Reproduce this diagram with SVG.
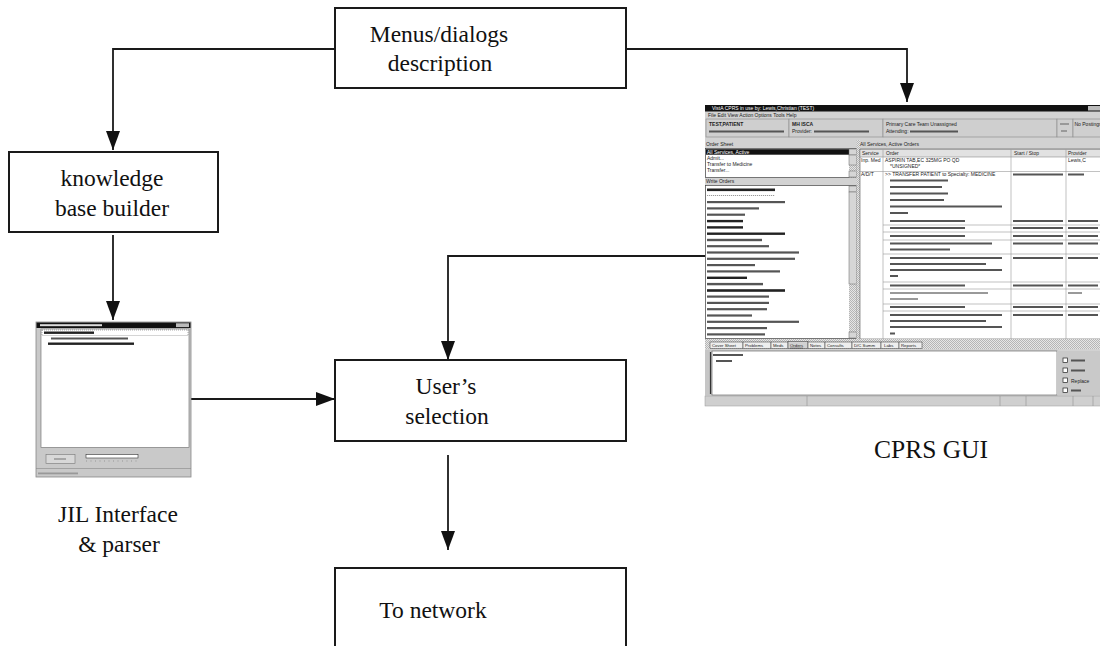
<svg xmlns="http://www.w3.org/2000/svg" width="1100" height="646" viewBox="0 0 1100 646">
<style>
.box{fill:#fff;stroke:#1a1a1a;stroke-width:2}
.lbl{font-family:"Liberation Serif","Times New Roman",serif;font-size:23.5px;fill:#111;text-anchor:middle}
.big{font-size:25.5px}
.edge{fill:none;stroke:#1a1a1a;stroke-width:1.8}
.st{font-family:"Liberation Sans",Arial,sans-serif;font-size:5px;fill:#222}
.stw{font-family:"Liberation Sans",Arial,sans-serif;font-size:5px;fill:#fff}
.tab{font-family:"Liberation Sans",Arial,sans-serif;font-size:4.3px;fill:#222}
.bar{fill:#555}
.barl{fill:#999}
.bard{fill:#222}
.panel{fill:#cfcfcf;stroke:#888;stroke-width:0.6}
.wh{fill:#fff;stroke:#444;stroke-width:0.7}
.grid{stroke:#999;stroke-width:0.6}
.cb{fill:#fff;stroke:#222;stroke-width:0.7}
</style>
<defs>
<marker id="ah" markerUnits="userSpaceOnUse" markerWidth="20" markerHeight="15" refX="19" refY="7" orient="auto">
<path d="M0,0 L19,7 L0,14 z" fill="#111"/>
</marker>
<pattern id="dots" width="2" height="2" patternUnits="userSpaceOnUse">
<rect width="2" height="2" fill="#e6e6e6"/><rect width="1" height="1" fill="#b5b5b5"/><rect x="1" y="1" width="1" height="1" fill="#b5b5b5"/>
</pattern>
</defs>
<rect width="1100" height="646" fill="#fff"/>

<g id="connectors">
<path class="edge" d="M335,49 H113 V150" marker-end="url(#ah)"/>
<path class="edge" d="M113,235 V320" marker-end="url(#ah)"/>
<path class="edge" d="M191,399 H335" marker-end="url(#ah)"/>
<path class="edge" d="M626,49 H907 V102" marker-end="url(#ah)"/>
<path class="edge" d="M705,256 H448 V360" marker-end="url(#ah)"/>
<path class="edge" d="M448,455 V550" marker-end="url(#ah)"/>
</g>

<g id="menus-dialogs">
<rect class="box" x="335" y="8" width="291" height="80"/>
<text class="lbl" x="439" y="42">Menus/dialogs</text>
<text class="lbl" x="440" y="71">description</text>
</g>

<g id="knowledge-base-builder">
<rect class="box" x="9" y="152" width="209" height="80"/>
<text class="lbl" x="112" y="186">knowledge</text>
<text class="lbl" x="112" y="216">base builder</text>
</g>

<g id="users-selection">
<rect class="box" x="335" y="360" width="291" height="81"/>
<text class="lbl" x="446" y="394">User’s</text>
<text class="lbl" x="447" y="424">selection</text>
</g>

<g id="to-network">
<rect class="box" x="335" y="568" width="291" height="100"/>
<text class="lbl" x="433" y="618">To network</text>
</g>

<g id="jil-interface">
<rect x="36" y="322" width="155" height="155" fill="#c9c9c9" stroke="#888" stroke-width="0.8"/>
<rect x="36.5" y="322.5" width="154" height="5.5" fill="#111"/>
<rect x="40" y="324.2" width="62" height="2" fill="#ddd"/>
<rect x="176" y="323.3" width="13" height="3.8" fill="#bbb"/>
<rect x="41" y="329" width="148" height="118.5" fill="#fff" stroke="#666" stroke-width="0.6"/>
<rect x="42" y="330" width="146" height="5.5" fill="none" stroke="#555" stroke-width="0.5" stroke-dasharray="1,1"/>
<rect x="44" y="331.5" width="50" height="2.4" class="bard"/>
<rect x="51" y="337.5" width="77" height="2" class="bar"/>
<rect x="48" y="342.5" width="86" height="2.4" class="bard"/>
<rect x="46" y="454.5" width="29" height="9" fill="#d8d8d8" stroke="#777" stroke-width="0.6"/>
<rect x="54" y="458.2" width="12" height="1.6" class="barl"/>
<rect x="86" y="454.5" width="52" height="3.5" fill="#fff" stroke="#333" stroke-width="0.6"/>
<path d="M86,461 H138" stroke="#777" stroke-width="0.6" stroke-dasharray="1,3.5"/>
<path d="M36,468.5 H191" stroke="#888" stroke-width="0.6"/>
<rect x="38" y="472.5" width="40" height="1.8" class="barl"/>
<text class="lbl" x="118" y="522">JIL Interface</text>
<text class="lbl" x="119" y="552">&amp; parser</text>
</g>

<g id="cprs-gui">
<rect x="705" y="105" width="400" height="301" fill="#d2d2d2"/>
<rect x="705" y="105" width="400" height="6.5" fill="#111"/>
<text class="stw" x="712" y="110.3">VistA CPRS in use by: Lewis,Christian (TEST)</text>
<rect x="1088" y="106" width="12" height="4.5" fill="#bbb"/>
<text class="st" x="708" y="117">File  Edit  View  Action  Options  Tools  Help</text>
<rect class="panel" x="706" y="119" width="83" height="18"/>
<text class="st" x="709" y="126" font-weight="bold">TEST,PATIENT</text>
<rect x="709" y="130.5" width="75" height="2" class="bar"/>
<rect class="panel" x="789" y="119" width="94" height="18"/>
<text class="st" x="792" y="126" font-weight="bold">MH ISCA</text>
<text class="st" x="792" y="133">Provider:</text>
<rect x="814" y="130.5" width="55" height="2" class="bar"/>
<rect class="panel" x="883" y="119" width="174" height="18"/>
<text class="st" x="886" y="126">Primary Care Team Unassigned</text>
<text class="st" x="886" y="133">Attending:</text>
<rect x="910" y="130.5" width="48" height="2" class="bar"/>
<rect class="panel" x="1057" y="119" width="16" height="18"/>
<rect x="1060" y="123" width="9" height="2" class="barl"/>
<rect x="1061" y="130" width="6" height="2" class="barl"/>
<rect class="panel" x="1073" y="119" width="30" height="18"/>
<text class="st" x="1074.5" y="126" font-size="4.4">No Postings</text>

<text class="st" x="706" y="146">Order Sheet</text>
<rect class="wh" x="705.5" y="148.5" width="151" height="29"/>
<rect x="706" y="149.2" width="143" height="5.5" fill="#111"/>
<text class="stw" x="707" y="153.8">All Services, Active</text>
<text class="st" x="707" y="160">Admit...</text>
<text class="st" x="707" y="166">Transfer to Medicine</text>
<text class="st" x="707" y="172">Transfer...</text>
<rect x="849" y="149" width="7.5" height="28.5" fill="url(#dots)"/>
<rect x="849" y="149" width="7.5" height="6" fill="#d6d6d6" stroke="#666" stroke-width="0.5"/>
<rect x="849" y="171" width="7.5" height="6" fill="#d6d6d6" stroke="#666" stroke-width="0.5"/>
<rect x="849" y="155" width="7.5" height="10" fill="#d6d6d6" stroke="#666" stroke-width="0.5"/>

<text class="st" x="706" y="183">Write Orders</text>
<rect class="wh" x="705.5" y="185.5" width="151" height="153"/>
<g>
<rect x="707" y="188.5" width="68" height="2.6" class="bard"/>
<path d="M707,195.5 H775" stroke="#555" stroke-width="0.6" stroke-dasharray="1.2,0.8"/>
<rect x="707" y="201" width="78" height="2.2" class="bar"/>
<rect x="707" y="207.3" width="52" height="2.2" class="bar"/>
<rect x="707" y="213.6" width="38" height="2.2" class="bar"/>
<rect x="707" y="219.9" width="36" height="2.4" class="bard"/>
<rect x="707" y="226.2" width="36" height="2.4" class="bard"/>
<rect x="707" y="232.5" width="78" height="2.4" class="bard"/>
<rect x="707" y="238.8" width="55" height="2.4" class="bar"/>
<rect x="707" y="245.1" width="62" height="2.2" class="bar"/>
<rect x="707" y="251.4" width="92" height="2.2" class="bar"/>
<rect x="707" y="257.7" width="88" height="2.2" class="bar"/>
<rect x="707" y="264" width="48" height="2.2" class="bar"/>
<rect x="707" y="270.3" width="73" height="2.2" class="bar"/>
<rect x="707" y="276.6" width="40" height="2.4" class="bard"/>
<rect x="707" y="282.9" width="56" height="2.4" class="bar"/>
<rect x="707" y="289.2" width="78" height="2.6" class="bard"/>
<rect x="707" y="295.5" width="62" height="2.2" class="bar"/>
<rect x="707" y="301.8" width="62" height="2.2" class="bar"/>
<rect x="707" y="308.1" width="60" height="2.2" class="bar"/>
<rect x="707" y="314.4" width="45" height="2.2" class="bar"/>
<rect x="707" y="320.7" width="92" height="2.2" class="bar"/>
<rect x="707" y="327" width="60" height="2.2" class="bar"/>
<rect x="707" y="333.3" width="58" height="2.2" class="bar"/>
</g>
<rect x="849" y="186" width="7.5" height="152" fill="url(#dots)"/>
<rect x="849" y="186" width="7.5" height="6" fill="#d6d6d6" stroke="#666" stroke-width="0.5"/>
<rect x="849" y="192" width="7.5" height="92" fill="#d6d6d6" stroke="#666" stroke-width="0.5"/>
<rect x="849" y="332" width="7.5" height="6" fill="#d6d6d6" stroke="#666" stroke-width="0.5"/>
<rect x="856.5" y="140" width="3.5" height="199" fill="url(#dots)"/>

<text class="st" x="860" y="146">All Services, Active Orders</text>
<rect x="860" y="149" width="245" height="190" fill="#fff" stroke="#555" stroke-width="0.6"/>
<rect x="860" y="149.5" width="245" height="7.5" fill="#e2e2e2" stroke="#777" stroke-width="0.5"/>
<text class="st" x="862" y="155">Service</text>
<text class="st" x="886" y="155">Order</text>
<text class="st" x="1014" y="155">Start / Stop</text>
<text class="st" x="1068" y="155">Provider</text>
<g class="grid">
<path d="M883,149.5 V339 M1011,149.5 V339 M1066,149.5 V339"/>
<path d="M860,171.5 H1105 M883,225 H1105 M883,232 H1105 M883,240 H1105 M883,254 H1105 M883,282 H1105 M883,289 H1105 M883,304 H1105 M883,311 H1105"/>
</g>
<text class="st" x="861" y="162">Inp. Med</text>
<text class="st" x="885" y="162">ASPIRIN TAB,EC  325MG PO QD</text>
<text class="st" x="890" y="168">*UNSIGNED*</text>
<text class="st" x="1068" y="162">Lewis,C</text>
<text class="st" x="861" y="175.5">A/D/T</text>
<text class="st" x="885" y="175.5">&gt;&gt; TRANSFER PATIENT to Specialty: MEDICINE</text>
<g>
<rect x="1013" y="173.5" width="50" height="2" class="bar"/>
<rect x="1068" y="173.5" width="16" height="2" class="bar"/>
<rect x="890" y="179.5" width="58" height="2" class="bar"/>
<rect x="890" y="186" width="52" height="2" class="bar"/>
<rect x="890" y="192.5" width="58" height="2" class="bar"/>
<rect x="890" y="199" width="54" height="2" class="bar"/>
<rect x="890" y="205.5" width="112" height="2" class="bar"/>
<rect x="890" y="212" width="18" height="2" class="bar"/>
<rect x="890" y="220" width="75" height="2" class="bar"/>
<rect x="890" y="227" width="75" height="2" class="bar"/>
<rect x="890" y="235" width="75" height="2" class="bar"/>
<rect x="890" y="242.5" width="102" height="2" class="bar"/>
<rect x="890" y="248.5" width="60" height="2" class="bar"/>
<rect x="890" y="257" width="112" height="2" class="bar"/>
<rect x="890" y="263" width="96" height="2" class="bar"/>
<rect x="890" y="269" width="112" height="2" class="bar"/>
<rect x="890" y="275" width="8" height="2" class="bar"/>
<rect x="890" y="284.5" width="75" height="2" class="bar"/>
<rect x="890" y="292" width="98" height="2" class="barl"/>
<rect x="890" y="298" width="28" height="2" class="barl"/>
<rect x="890" y="306" width="75" height="2" class="bar"/>
<rect x="890" y="314" width="112" height="2" class="bar"/>
<rect x="890" y="320" width="96" height="2" class="bar"/>
<rect x="890" y="326" width="112" height="2" class="bar"/>
<rect x="890" y="332.5" width="5" height="2" class="bar"/>
<rect x="1013" y="220" width="50" height="2" class="bar"/>
<rect x="1013" y="227" width="50" height="2" class="bar"/>
<rect x="1013" y="235" width="50" height="2" class="bar"/>
<rect x="1013" y="242.5" width="50" height="2" class="bar"/>
<rect x="1013" y="257" width="50" height="2" class="bar"/>
<rect x="1013" y="284.5" width="50" height="2" class="bar"/>
<rect x="1013" y="306" width="50" height="2" class="bar"/>
<rect x="1013" y="314" width="50" height="2" class="bar"/>
<rect x="1068" y="220" width="30" height="2" class="bar"/>
<rect x="1068" y="227" width="30" height="2" class="bar"/>
<rect x="1068" y="235" width="30" height="2" class="bar"/>
<rect x="1068" y="242.5" width="30" height="2" class="bar"/>
<rect x="1068" y="257" width="30" height="2" class="bar"/>
<rect x="1068" y="284.5" width="30" height="2" class="bar"/>
<rect x="1068" y="292" width="14" height="2" class="barl"/>
<rect x="1068" y="306" width="30" height="2" class="bar"/>
<rect x="1068" y="314" width="30" height="2" class="bar"/>
</g>

<rect x="705" y="339" width="400" height="10" fill="url(#dots)"/>
<g fill="#eee" stroke="#333" stroke-width="0.5">
<rect x="710" y="342" width="33" height="6.5"/>
<rect x="743" y="342" width="28" height="6.5"/>
<rect x="771" y="342" width="17" height="6.5"/>
<rect x="788" y="341.5" width="20" height="7" fill="#d2d2d2"/>
<rect x="808" y="342" width="17" height="6.5"/>
<rect x="825" y="342" width="27" height="6.5"/>
<rect x="852" y="342" width="29" height="6.5"/>
<rect x="881" y="342" width="18" height="6.5"/>
<rect x="899" y="342" width="23" height="6.5"/>
</g>
<text class="tab" x="712" y="346.8">Cover Sheet</text>
<text class="tab" x="745" y="346.8">Problems</text>
<text class="tab" x="773" y="346.8">Meds</text>
<text class="tab" x="790" y="346.8" text-decoration="underline">Orders</text>
<text class="tab" x="810" y="346.8">Notes</text>
<text class="tab" x="827" y="346.8">Consults</text>
<text class="tab" x="854" y="346.8">D/C Summ</text>
<text class="tab" x="884" y="346.8">Labs</text>
<text class="tab" x="901" y="346.8">Reports</text>

<rect x="705" y="350" width="7" height="45" fill="#c6c6c6"/>
<path d="M710.5,352 V394" stroke="#333" stroke-width="1.2"/>
<rect x="712" y="351" width="345" height="44" fill="#fff" stroke="#555" stroke-width="0.6"/>
<rect x="713" y="354" width="30" height="2" class="bar"/>
<rect x="716" y="360" width="16" height="2" class="bar"/>
<rect x="1057" y="351" width="48" height="44" fill="#c9c9c9"/>
<rect class="cb" x="1063" y="358" width="4.5" height="4.5"/>
<rect class="cb" x="1063" y="368" width="4.5" height="4.5"/>
<rect class="cb" x="1063" y="378" width="4.5" height="4.5"/>
<rect class="cb" x="1063" y="388" width="4.5" height="4.5"/>
<rect x="1071" y="359.5" width="14" height="2" class="bar"/>
<rect x="1071" y="369.5" width="14" height="2" class="bar"/>
<text class="st" x="1071" y="382.5">Replace</text>
<rect x="1071" y="389.5" width="10" height="2" class="bar"/>
<rect x="705" y="396" width="400" height="10" fill="#cfcfcf" stroke="#999" stroke-width="0.5"/>
<path d="M807,396 V406 M1000,396 V406 M1026,396 V406 M1073,396 V406 M1093,396 V406" stroke="#999" stroke-width="0.7"/>
<text class="lbl big" x="931" y="458">CPRS GUI</text>
</g>
</svg>
